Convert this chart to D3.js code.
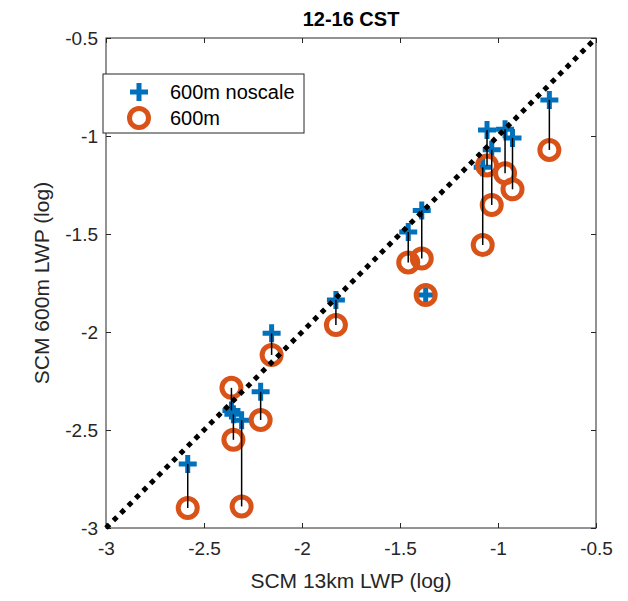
<!DOCTYPE html>
<html>
<head>
<meta charset="utf-8">
<script src="https://cdn.jsdelivr.net/npm/d3@7/dist/d3.min.js"></script>
<style>
  html, body { margin: 0; padding: 0; background: #fff; }
  svg { display: block; font-family: "Liberation Sans", Arial, Helvetica, sans-serif; }
</style>
</head>
<body>
<svg id="chart" width="628" height="601"></svg>
<script>
// ---- data ----
const title = "12-16 CST";
const xLabel = "SCM 13km LWP (log)";
const yLabel = "SCM 600m LWP (log)";
const seriesNames = ["600m noscale", "600m"];
const lwp13km   = [-2.583, -2.36, -2.35, -2.308, -2.211, -2.155, -1.827, -1.458, -1.389, -1.369, -1.078, -1.056, -1.032, -0.964, -0.926, -0.738];
const lwpNoscale = [-2.673, -2.40, -2.42, -2.45, -2.305, -2.007, -1.837, -1.49, -1.38, -1.811, -1.16, -0.97, -1.07, -0.965, -1.01, -0.816];
const lwp600m   = [-2.898, -2.285, -2.55, -2.89, -2.449, -2.117, -1.964, -1.645, -1.625, -1.811, -1.556, -1.15, -1.352, -1.19, -1.272, -1.071];
const ticks = [-3, -2.5, -2, -1.5, -1, -0.5];
const domain = [-3, -0.5];

// ---- layout ----
const svg = d3.select("#chart");
const L = 106, R = 596, T = 38, B = 528;
const axisColor = "#262626";
const blue = "#0072BD", orange = "#D95319";

const x = d3.scaleLinear().domain(domain).range([L, R]);
const y = d3.scaleLinear().domain(domain).range([B, T]);

const fmt = d => String(d);

// axes (ticks inward on all four sides)
const tickLen = 5;
const gx = svg.append("g").attr("transform", `translate(0,${B})`)
  .call(d3.axisBottom(x).tickValues(ticks).tickFormat(fmt).tickSizeInner(-tickLen).tickSizeOuter(0).tickPadding(14));
const gxt = svg.append("g").attr("transform", `translate(0,${T})`)
  .call(d3.axisTop(x).tickValues(ticks).tickFormat("").tickSizeInner(-tickLen).tickSizeOuter(0));
const gy = svg.append("g").attr("transform", `translate(${L},0)`)
  .call(d3.axisLeft(y).tickValues(ticks).tickFormat(fmt).tickSizeInner(-tickLen).tickSizeOuter(0).tickPadding(8));
const gyr = svg.append("g").attr("transform", `translate(${R},0)`)
  .call(d3.axisRight(y).tickValues(ticks).tickFormat("").tickSizeInner(-tickLen).tickSizeOuter(0));

[gx, gxt, gy, gyr].forEach(g => {
  g.select(".domain").remove();
  g.selectAll(".tick line").attr("stroke", axisColor).attr("stroke-width", 1);
  g.selectAll(".tick text").attr("fill", axisColor).style("font-size", "19px")
    .style("font-family", "'Liberation Sans', Arial, sans-serif");
});

// plot box
svg.append("rect").attr("x", L).attr("y", T).attr("width", R - L).attr("height", B - T)
  .attr("fill", "none").attr("stroke", axisColor).attr("stroke-width", 1);

// data
const pts = lwp13km.map((v, i) => ({ x: v, a: lwpNoscale[i], b: lwp600m[i] }));

// plus markers
const plusArm = 9, plusW = 5;
const plusG = svg.append("g");
pts.forEach(p => {
  const cx = x(p.x), cy = y(p.a);
  plusG.append("path")
    .attr("d", `M${cx - plusArm},${cy}H${cx + plusArm}M${cx},${cy - plusArm}V${cy + plusArm}`)
    .attr("stroke", blue).attr("stroke-width", plusW).attr("fill", "none");
});

// circle markers
svg.append("g").selectAll("circle").data(pts).join("circle")
  .attr("cx", d => x(d.x)).attr("cy", d => y(d.b)).attr("r", 9.5)
  .attr("fill", "none").attr("stroke", orange).attr("stroke-width", 5);

// vertical connecting lines
svg.append("g").selectAll("line").data(pts).join("line")
  .attr("x1", d => x(d.x)).attr("x2", d => x(d.x))
  .attr("y1", d => y(d.a)).attr("y2", d => y(d.b))
  .attr("stroke", "#000").attr("stroke-width", 1.5);

// 1:1 dotted line
svg.append("line")
  .attr("x1", x(domain[0])).attr("y1", y(domain[0]))
  .attr("x2", x(domain[1])).attr("y2", y(domain[1]))
  .attr("stroke", "#000").attr("stroke-width", 5).attr("stroke-dasharray", "5,5.5");

// title and labels
svg.append("text").attr("x", (L + R) / 2).attr("y", 26).attr("text-anchor", "middle")
  .attr("fill", "#000").style("font-size", "20px").style("font-weight", "bold").text(title);
svg.append("text").attr("x", (L + R) / 2).attr("y", 588).attr("text-anchor", "middle")
  .attr("fill", axisColor).style("font-size", "21px").text(xLabel);
svg.append("text").attr("transform", `translate(49,${(T + B) / 2}) rotate(-90)`).attr("text-anchor", "middle")
  .attr("fill", axisColor).style("font-size", "21px").text(yLabel);

// legend
const lg = svg.append("g");
lg.append("rect").attr("x", 103).attr("y", 74).attr("width", 201).attr("height", 59)
  .attr("fill", "#fff").attr("stroke", axisColor).attr("stroke-width", 1);
const lx = 139, ly1 = 92, ly2 = 118;
lg.append("path").attr("d", `M${lx - plusArm},${ly1}H${lx + plusArm}M${lx},${ly1 - plusArm}V${ly1 + plusArm}`)
  .attr("stroke", blue).attr("stroke-width", plusW);
lg.append("circle").attr("cx", lx).attr("cy", ly2).attr("r", 9.5)
  .attr("fill", "none").attr("stroke", orange).attr("stroke-width", 5);
lg.append("text").attr("x", 170).attr("y", ly1 + 7).attr("fill", "#000").style("font-size", "20px").text(seriesNames[0]);
lg.append("text").attr("x", 170).attr("y", ly2 + 7).attr("fill", "#000").style("font-size", "20px").text(seriesNames[1]);
</script>
</body>
</html>
